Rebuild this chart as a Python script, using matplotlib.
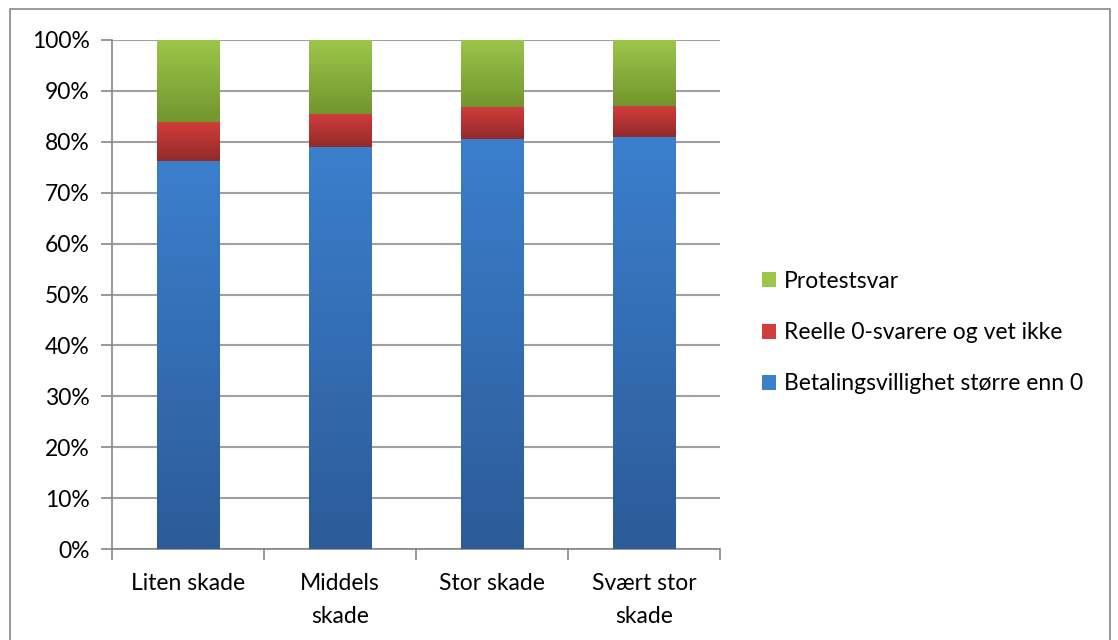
import numpy as np
import matplotlib.pyplot as plt
from matplotlib.colors import LinearSegmentedColormap
from matplotlib.patches import Rectangle

plt.rcParams['font.family'] = ['Lato', 'DejaVu Sans']

kategorier = ["Liten skade", "Middels\nskade", "Stor skade", "Svært stor\nskade"]
betaling = [76.2, 79.0, 80.5, 80.9]
reelle0 = [7.7, 6.5, 6.3, 6.2]
protest = [16.1, 14.5, 13.2, 12.9]
serier = ["Betalingsvillighet større enn 0", "Reelle 0-svarere og vet ikke", "Protestsvar"]

# (top colour, bottom colour) for each series
farger = [("#3b7fcd", "#2c5b98"), ("#d23e3c", "#922a2a"), ("#9cc64a", "#72952e")]

fig = plt.figure(figsize=(11.18, 6.40), dpi=100)
ax = fig.add_axes([112/1118, 1 - 549/640, 608/1118, 509/640])

x = np.arange(len(kategorier))
bredde = 0.41
bunn = np.zeros(len(kategorier))
gradient = np.linspace(1, 0, 256).reshape(-1, 1)
for verdier, (topp, lav), navn in zip([betaling, reelle0, protest], farger, serier):
    verdier = np.array(verdier)
    bars = ax.bar(x, verdier, bredde, bottom=bunn, color=topp, label=navn,
                  linewidth=0, zorder=2)
    cmap = LinearSegmentedColormap.from_list(navn, [lav, topp])
    for b in bars:
        x0, y0 = b.get_x(), b.get_y()
        im = ax.imshow(gradient, cmap=cmap, aspect='auto', zorder=3,
                       extent=[x0, x0 + b.get_width(), y0, y0 + b.get_height()])
        im.set_clip_path(b)
    bunn += verdier

fs = 16.5
ax.set_xlim(-0.5, len(kategorier) - 0.5)
ax.set_ylim(0, 100)
ax.set_yticks(np.arange(0, 101, 10))
ax.set_yticklabels([f"{v}%" for v in range(0, 101, 10)], fontsize=fs)
ax.set_xticks(x)
ax.set_xticklabels(kategorier, fontsize=fs, linespacing=1.75, va='top')
ax.set_xticks(np.arange(-0.5, len(kategorier)), minor=True)
ax.tick_params(axis='x', which='major', length=0, pad=17)
ax.tick_params(axis='x', which='minor', length=8, color="#888888", width=1.2)
ax.tick_params(axis='y', length=8, color="#888888", width=1.2, pad=8)
ax.grid(axis='y', color="#a0a0a0", linewidth=1.5, zorder=0)
for s in ["top", "right"]:
    ax.spines[s].set_visible(False)
for s in ["left", "bottom"]:
    ax.spines[s].set_color("#888888")
    ax.spines[s].set_linewidth(1.2)

h, l = ax.get_legend_handles_labels()
ax.legend(h[::-1], l[::-1], loc='center left', bbox_to_anchor=(1.035, 0.425),
          frameon=False, fontsize=fs, handlelength=0.62, handleheight=0.62,
          labelspacing=1.32, handletextpad=0.35)

# outer chart frame
fig.patches.append(Rectangle((10/1118, -0.05), 1100/1118, 1 - 9/640 + 0.05,
                             transform=fig.transFigure, fill=False,
                             edgecolor="#888888", linewidth=1.2))

fig.savefig("out.png", dpi=100)
